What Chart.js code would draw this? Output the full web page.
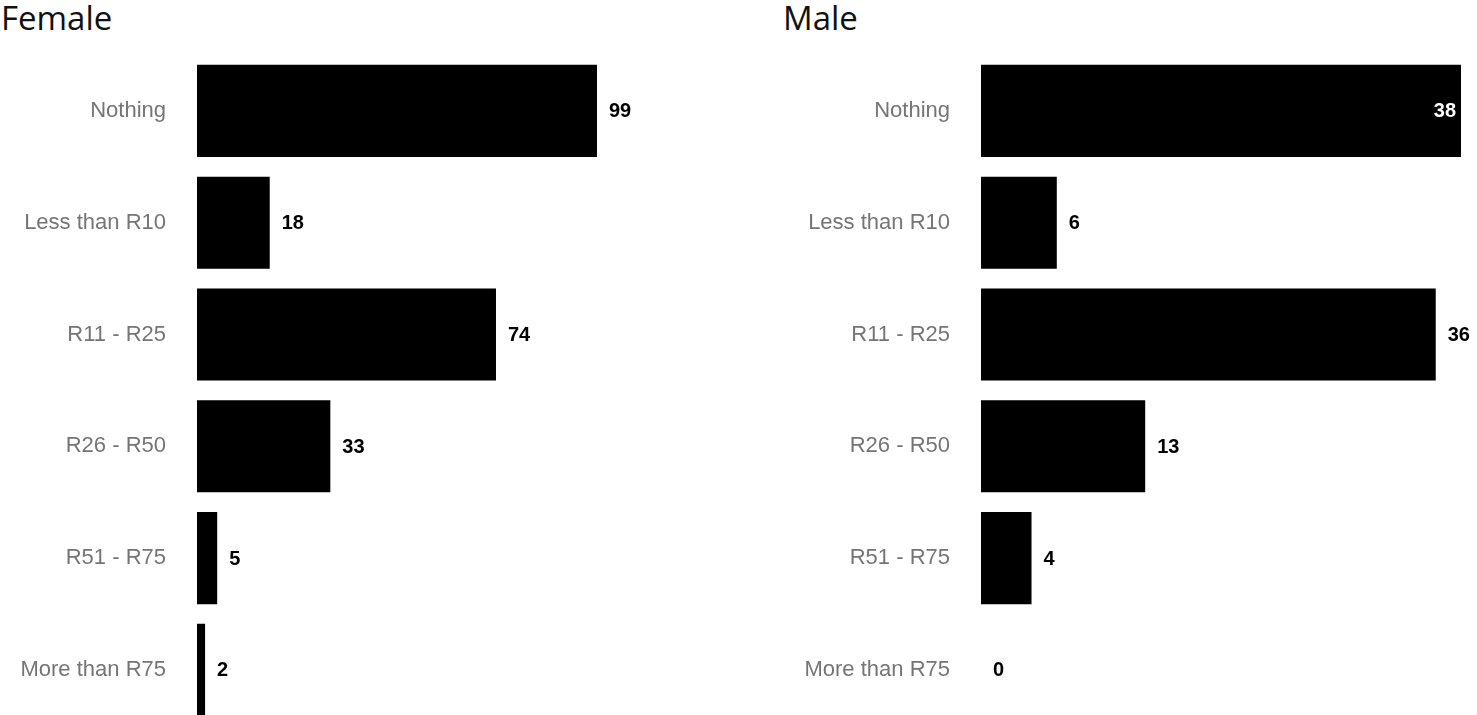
<!DOCTYPE html>
<html><head><meta charset="utf-8">
<script src="https://cdn.jsdelivr.net/npm/chart.js@4.4.1/dist/chart.umd.min.js"></script>
<style>
html,body{margin:0;padding:0;overflow:hidden;background:#fff;width:1477px;height:715px;}
.title{position:absolute;top:-5px;font-family:"Open Sans",sans-serif;font-size:33px;color:#111;line-height:1.4;}
canvas{position:absolute;top:0;}
</style></head><body>
<div class="title" style="left:1px">Female</div>
<div class="title" style="left:783px">Male</div>
<canvas id="cf" width="738" height="770" style="left:0"></canvas>
<canvas id="cm" width="693" height="770" style="left:784px"></canvas>
<script>
const categories = ["Nothing","Less than R10","R11 - R25","R26 - R50","R51 - R75","More than R75"];
const femaleValues = [99,18,74,33,5,2];
const maleValues = [38,6,36,13,4,0];
const panelTitles = ["Female","Male"];

const valueLabels = {
  id:'valueLabels',
  afterDatasetsDraw(chart){
    const ctx = chart.ctx;
    const meta = chart.getDatasetMeta(0);
    const data = chart.data.datasets[0].data;
    ctx.save();
    ctx.font = 'bold 20px "Liberation Sans", Arial, sans-serif';
    ctx.textBaseline = 'middle';
    meta.data.forEach((bar,i)=>{
      const txt = String(data[i]);
      const w = ctx.measureText(txt).width;
      const x = bar.x + 12;
      const y = bar.y + 1;
      if (x + w > chart.width) {
        ctx.textAlign = 'right';
        ctx.lineWidth = 3;
        ctx.strokeStyle = '#000';
        ctx.lineJoin = 'round';
        ctx.strokeText(txt, bar.x - 5, y);
        ctx.fillStyle = '#fff';
        ctx.fillText(txt, bar.x - 5, y);
      } else {
        ctx.textAlign = 'left';
        ctx.fillStyle = '#000';
        ctx.fillText(txt, x, y);
      }
    });
    ctx.restore();
  }
};

function makeChart(id, values, maxVal, padRight){
  return new Chart(document.getElementById(id), {
    type:'bar',
    data:{labels:categories, datasets:[{data:values, backgroundColor:'#000', borderWidth:0,
      categoryPercentage:1, barPercentage:0.824}]},
    options:{
      indexAxis:'y', responsive:false, maintainAspectRatio:false, animation:false, devicePixelRatio:1,
      layout:{padding:{top:55,bottom:5,right:padRight,left:0}},
      plugins:{legend:{display:false}, tooltip:{enabled:false}},
      scales:{
        x:{display:false, min:0, max:maxVal},
        y:{
          grid:{display:false, drawTicks:false}, border:{display:false},
          afterFit(s){ s.width = 197; },
          ticks:{padding:31, color:'#757575', font:{family:'"Liberation Sans", Arial, sans-serif', size:22}}
        }
      }
    },
    plugins:[valueLabels]
  });
}
makeChart('cf', femaleValues, 99, 141);
makeChart('cm', maleValues, 38, 16);
</script>
</body></html>
